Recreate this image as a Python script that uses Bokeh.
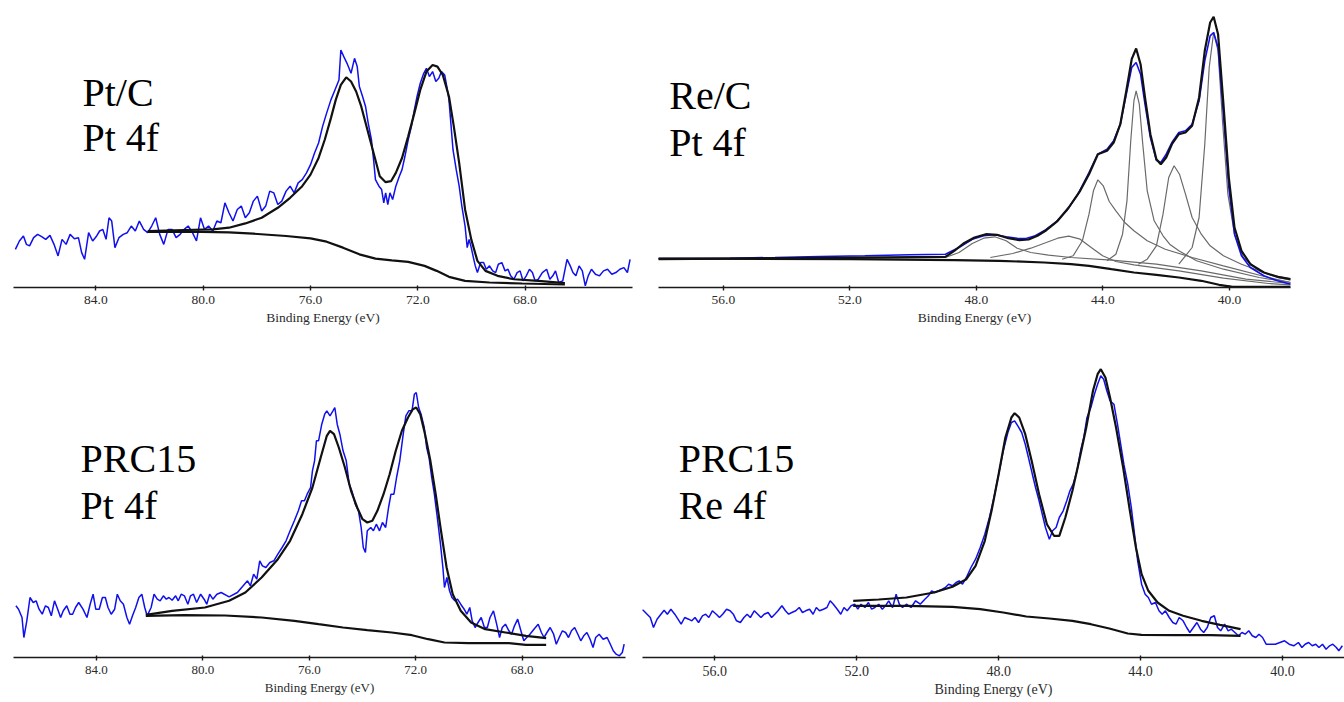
from bokeh.plotting import figure
from bokeh.models import Range1d, FixedTicker, Label, NumeralTickFormatter
from bokeh.layouts import row, column
from bokeh.embed import file_html
from bokeh.resources import INLINE

# ---------------- Panel A : Pt/C, Pt 4f ----------------
ptc_raw = [(87.00, 38.3), (86.85, 46.7), (86.70, 51.7), (86.59, 43.3), (86.47, 41.7), (86.32, 50), (86.17, 53.3),
           (86.02, 51), (85.87, 48.3), (85.71, 52.3), (85.56, 43.3), (85.41, 31.7), (85.26, 48.3), (85.11, 43.3),
           (84.96, 53.3), (84.80, 49), (84.65, 50), (84.53, 35), (84.42, 28.3), (84.27, 55), (84.12, 46.7),
           (83.97, 51.7), (83.86, 56.7), (83.74, 58.3), (83.62, 48.3), (83.51, 70), (83.41, 66.7), (83.29, 40),
           (83.14, 50), (82.98, 53.3), (82.83, 55), (82.68, 61.7), (82.53, 56.7), (82.38, 66.7), (82.22, 58.3),
           (82.07, 55), (81.92, 61.7), (81.77, 70), (81.62, 53.3), (81.47, 43.3), (81.31, 58.3), (81.16, 58.3),
           (81.01, 50), (80.86, 53.3), (80.71, 58.3), (80.56, 61.7), (80.40, 55), (80.25, 46.7), (80.10, 70),
           (79.95, 58.3), (79.80, 61.7), (79.64, 56.7), (79.49, 66.7), (79.34, 65), (79.19, 85), (79.04, 75),
           (78.89, 66.7), (78.73, 78.3), (78.58, 81.7), (78.43, 70), (78.28, 75), (78.13, 86.7), (77.98, 91.7),
           (77.82, 76.7), (77.67, 81.7), (77.52, 96.7), (77.37, 95), (77.22, 83.3), (77.07, 86.7), (76.91, 96.7),
           (76.76, 101.7), (76.61, 95), (76.46, 105), (76.31, 108.3), (76.15, 115), (76.00, 123.3), (75.85, 135),
           (75.70, 145), (75.55, 161.7), (75.40, 175), (75.24, 188.3), (75.09, 198.3), (74.94, 208.3),
           (74.87, 238.3), (74.76, 231.7), (74.64, 225), (74.49, 215), (74.36, 230), (74.26, 221.7),
           (74.18, 201.7), (74.06, 191.7), (73.95, 181.7), (73.85, 165), (73.73, 148.3), (73.65, 128.3),
           (73.58, 108.3), (73.45, 101.7), (73.35, 98.3), (73.27, 85), (73.20, 95), (73.12, 83.3), (73.04, 95),
           (72.94, 88.3), (72.82, 101.7), (72.69, 111.7), (72.59, 118.3), (72.48, 131.7), (72.36, 148.3),
           (72.24, 161.7), (72.13, 178.3), (72.03, 191.7), (71.91, 205), (71.78, 215), (71.68, 220),
           (71.57, 211.7), (71.45, 216.7), (71.33, 206.7), (71.22, 210), (71.12, 216.7), (71.00, 213.3),
           (70.92, 201.7), (70.84, 188.3), (70.77, 165), (70.69, 138.3), (70.57, 118.3), (70.46, 101.7),
           (70.36, 81.7), (70.24, 61.7), (70.16, 40), (70.09, 48.3), (70.01, 40), (69.93, 30), (69.86, 21.7),
           (69.78, 15), (69.66, 25), (69.55, 25), (69.45, 18.3), (69.33, 21.7), (69.21, 16.7), (69.10, 15),
           (69.00, 23.3), (68.87, 25), (68.75, 16.7), (68.64, 18.3), (68.54, 11.7), (68.42, 8.3), (68.30, 15),
           (68.19, 16.7), (68.08, 6.7), (67.96, 11.7), (67.84, 18.3), (67.73, 15), (67.63, 6.7), (67.51, 8.3),
           (67.36, 15), (67.20, 18.3), (67.08, 8.3), (66.97, 11.7), (66.87, 16.7), (66.75, 5), (66.60, 6.7),
           (66.44, 28.3), (66.32, 21.7), (66.22, 15), (66.11, 11.7), (65.99, 21.7), (65.87, 16.7), (65.76, 1.7),
           (65.65, 11.7), (65.53, 18.3), (65.38, 13.3), (65.23, 11.7), (65.08, 16.7), (64.93, 18.3),
           (64.77, 13.3), (64.62, 15), (64.47, 18.3), (64.32, 20), (64.19, 15), (64.09, 28.3)]
ptc_fit = [(82.07, 56.7), (80.71, 57.7), (79.64, 58.3), (79.04, 60), (78.43, 64.3), (77.82, 70), (77.22, 80),
           (76.76, 90), (76.31, 101.7), (76.00, 113.3), (75.70, 130), (75.47, 148.3), (75.24, 170), (75.06, 188.3),
           (74.87, 203.3), (74.67, 211), (74.49, 206.7), (74.30, 196.7), (74.11, 181.7), (73.88, 158.3),
           (73.65, 135), (73.42, 111.7), (73.20, 105.7), (73.00, 106.7), (72.82, 115), (72.59, 130),
           (72.36, 151.7), (72.13, 175), (71.91, 198.3), (71.68, 216.7), (71.45, 223.3), (71.27, 221.7),
           (71.07, 213.3), (70.84, 191.7), (70.66, 161.7), (70.46, 125), (70.24, 78.3), (70.01, 48.3),
           (69.78, 26.7), (69.48, 16.7), (69.03, 11.7), (68.42, 8.3), (67.51, 6.7), (66.52, 4.3)]
ptc_bg = [(82.07, 55.7), (80.56, 56), (79.04, 55.3), (78.13, 54), (76.91, 51.7), (76.00, 49.3), (75.40, 46),
          (74.79, 40), (74.18, 33.3), (73.58, 29), (72.97, 27.3), (72.36, 25.7), (71.75, 21.7), (71.30, 16.7),
          (70.84, 10.7), (70.24, 6.7), (69.33, 5), (68.11, 4), (66.52, 3)]

# ---------------- Panel B : Re/C ----------------
rec_raw = [(58.06, 29), (56.78, 29), (55.79, 29.3), (54.37, 30), (52.95, 31), (51.53, 31.7), (50.11, 32.7),
           (48.98, 33.3), (48.55, 40), (48.13, 48.3), (47.77, 51.7), (47.42, 52.7), (47.06, 50.7), (46.71, 49.3),
           (46.43, 49), (46.14, 51.7), (45.86, 56.7), (45.50, 65), (45.15, 76.7), (44.79, 93.3), (44.44, 115),
           (44.16, 133.3), (43.87, 138.3), (43.66, 146.7), (43.45, 163.3), (43.26, 193.3), (43.09, 220),
           (42.95, 225), (42.81, 213.3), (42.67, 183.3), (42.50, 150), (42.31, 127.3), (42.17, 125),
           (42.00, 133.3), (41.82, 145), (41.60, 155), (41.39, 156.7), (41.18, 163.3), (40.96, 186.7),
           (40.78, 226.7), (40.61, 251.7), (40.50, 255), (40.36, 240), (40.19, 173.3), (40.02, 100),
           (39.84, 53.3), (39.62, 31.7), (39.34, 20), (38.91, 11.7), (38.48, 6.7), (38.06, 3.3)]
rec_fit = [(58.06, 28.3), (48.98, 30.7), (48.70, 36.7), (48.41, 44), (48.06, 50), (47.70, 53.3), (47.35, 52.7),
           (46.99, 49.3), (46.64, 47.3), (46.35, 48), (46.07, 51.7), (45.79, 57.3), (45.43, 66.7), (45.08, 80),
           (44.72, 96.7), (44.44, 113.3), (44.16, 133.3), (43.87, 136.7), (43.66, 145), (43.45, 163.3),
           (43.26, 196.7), (43.09, 228.3), (42.95, 239), (42.81, 223.3), (42.67, 190), (42.50, 153.3),
           (42.31, 128.3), (42.17, 123.3), (42.00, 130), (41.82, 143.3), (41.60, 153.3), (41.39, 155),
           (41.18, 161.7), (40.96, 190), (40.78, 236.7), (40.61, 265), (40.50, 270.7), (40.36, 253.3),
           (40.19, 183.3), (40.02, 110), (39.84, 60), (39.62, 36.7), (39.34, 23.3), (38.91, 15), (38.48, 10.7),
           (38.06, 8.3)]
rec_bg = [(58.06, 29), (51.96, 28.3), (48.70, 27.3), (47.28, 26.7), (45.86, 25), (45.01, 23.3), (44.44, 21.7),
          (43.73, 18.3), (43.02, 15), (42.31, 12.7), (41.60, 10), (40.89, 6.7), (40.33, 2.7), (39.90, 0.7),
          (38.06, 0.7)]
rec_c1 = [(48.98, 30), (48.55, 35), (48.13, 44), (47.77, 49.3), (47.42, 50.7), (47.06, 46.7), (46.71, 39.3),
          (46.28, 35), (45.72, 32.3), (45.01, 30), (43.73, 27.3), (42.31, 23.3), (40.89, 16.7), (39.48, 8.3),
          (38.06, 4)]
rec_c2 = [(47.56, 30), (46.85, 34), (46.28, 39.3), (45.79, 45), (45.43, 49.3), (45.08, 51.3), (44.72, 48.3),
          (44.37, 40), (44.01, 31.7), (43.59, 26), (43.02, 22.7), (41.60, 16.7), (40.19, 9.3), (38.77, 4),
          (38.06, 2.7)]
rec_c3 = [(45.29, 28.3), (44.94, 31.7), (44.65, 46.7), (44.44, 73.3), (44.30, 96.7), (44.16, 107.7),
          (43.99, 101.7), (43.80, 86), (43.59, 76.7), (43.31, 65), (43.02, 56.7), (42.60, 46.7), (42.03, 38.3),
          (41.18, 30), (40.19, 21.7), (38.77, 10), (38.06, 5)]
rec_c4 = [(43.87, 26.7), (43.59, 33.3), (43.38, 53.3), (43.24, 86.7), (43.12, 146.7), (43.02, 186.7),
          (42.95, 196.7), (42.85, 183.3), (42.74, 143.3), (42.60, 96.7), (42.38, 66.7), (42.10, 51.7),
          (41.89, 43.3), (41.60, 36.7), (41.04, 26.7), (40.19, 18.3), (39.06, 10), (38.06, 5)]
rec_c5 = [(42.88, 23.3), (42.60, 28.3), (42.31, 41.7), (42.10, 73.3), (41.92, 110), (41.75, 121.7),
          (41.58, 113.3), (41.39, 93.3), (41.18, 70), (40.89, 53.3), (40.61, 41.7), (40.19, 31.7),
          (39.62, 23.3), (38.77, 13.3), (38.06, 8.3)]
rec_c6 = [(41.60, 23.3), (41.18, 40), (40.96, 70), (40.78, 143.3), (40.64, 220), (40.50, 255), (40.36, 236.7),
          (40.22, 166.7), (40.05, 93.3), (39.84, 53.3), (39.56, 30), (39.06, 16.7), (38.48, 10), (38.06, 7.3)]

# ---------------- Panel C : PRC15, Pt 4f ----------------
prcpt_raw = [(87.02, 51.7), (86.92, 48.3), (86.79, 40), (86.72, 20), (86.61, 36.7), (86.49, 60), (86.37, 55),
             (86.26, 56.7), (86.15, 48.3), (86.03, 43.3), (85.91, 51.7), (85.80, 50), (85.69, 41.7),
             (85.57, 56.7), (85.45, 48.3), (85.34, 40), (85.24, 46.7), (85.11, 51.7), (84.99, 43.3),
             (84.89, 43.3), (84.78, 50), (84.66, 55), (84.50, 48.3), (84.35, 40), (84.23, 53.3), (84.12, 63.3),
             (84.02, 48.3), (83.89, 48.3), (83.77, 60), (83.66, 60), (83.56, 50), (83.44, 43.3), (83.31, 48.3),
             (83.21, 63.3), (83.10, 56.7), (82.98, 53.3), (82.85, 40), (82.75, 33.3), (82.64, 41.7), (82.52, 50),
             (82.40, 60), (82.29, 63.3), (82.18, 50), (82.09, 41.7), (81.94, 50), (81.83, 63.3), (81.71, 58.3),
             (81.60, 56.7), (81.48, 61.7), (81.37, 58.3), (81.27, 60), (81.15, 57.3), (81.02, 61.7),
             (80.92, 56.7), (80.81, 63.3), (80.69, 61.7), (80.56, 53.3), (80.46, 61.7), (80.35, 63.3),
             (80.23, 55), (80.08, 63.3), (79.95, 58.3), (79.85, 53.3), (79.74, 63.3), (79.62, 58.3),
             (79.47, 63.3), (79.31, 65), (79.01, 60.7), (78.70, 65), (78.32, 76.7), (78.21, 71.7), (78.09, 83.3),
             (77.97, 78.3), (77.86, 96.7), (77.76, 91.7), (77.63, 90), (77.48, 95), (77.33, 96.7),
             (77.18, 103.3), (77.02, 110), (76.87, 116.7), (76.72, 126.7), (76.56, 136.7), (76.41, 146.7),
             (76.29, 156.7), (76.18, 156.7), (76.08, 163.3), (75.95, 170), (75.88, 186.7), (75.80, 196.7),
             (75.73, 216.7), (75.65, 216.7), (75.53, 233.3), (75.42, 243.3), (75.34, 246.7), (75.22, 241.7),
             (75.11, 246.7), (75.04, 250), (74.95, 233.3), (74.85, 223.3), (74.73, 206.7), (74.61, 196.7),
             (74.50, 173.3), (74.40, 166.7), (74.27, 153.3), (74.15, 146.7), (74.05, 130), (73.97, 110),
             (73.89, 105), (73.82, 126.7), (73.69, 130), (73.59, 126.7), (73.48, 133.3), (73.36, 126.7),
             (73.25, 135), (73.13, 130), (73.02, 150), (72.93, 163.3), (72.82, 163.3), (72.72, 180),
             (72.60, 196.7), (72.47, 223.3), (72.37, 241.7), (72.26, 246.7), (72.14, 246.7), (72.05, 263.3),
             (71.98, 265), (71.89, 250), (71.80, 243.3), (71.68, 230), (71.59, 210), (71.50, 200), (71.40, 180),
             (71.30, 163.3), (71.19, 140), (71.07, 113.3), (70.98, 90), (70.92, 70), (70.83, 80), (70.73, 66.7),
             (70.64, 60), (70.53, 56.7), (70.43, 58.3), (70.31, 53.3), (70.18, 48.3), (70.08, 43.3), (69.97, 50),
             (69.88, 36.7), (69.77, 30), (69.66, 35), (69.54, 40), (69.42, 30), (69.31, 30), (69.21, 40),
             (69.08, 46.7), (68.96, 33.3), (68.85, 20), (68.75, 30), (68.63, 33.3), (68.50, 26.7), (68.40, 23.3),
             (68.29, 31.7), (68.17, 38.3), (68.05, 26.7), (67.94, 16.7), (67.83, 20), (67.71, 23.3),
             (67.56, 28.3), (67.40, 33.3), (67.28, 25), (67.18, 20), (67.07, 25), (66.95, 30), (66.82, 23.3),
             (66.72, 13.3), (66.61, 20), (66.49, 26.7), (66.37, 25), (66.26, 20), (66.15, 26.7), (66.03, 30),
             (65.91, 23.3), (65.80, 16.7), (65.69, 21.7), (65.57, 25), (65.45, 18.3), (65.34, 10), (65.24, 20),
             (65.11, 23.3), (64.96, 18.3), (64.81, 20), (64.69, 13.3), (64.58, 6.7), (64.47, 3.3), (64.35, 1.7),
             (64.24, 5), (64.17, 13.3)]
prcpt_fit = [(82.14, 42.7), (81.15, 46.7), (79.92, 50), (79.01, 56.7), (78.40, 65), (77.79, 80), (77.18, 98.3),
             (76.72, 116.7), (76.26, 143.3), (75.88, 170), (75.57, 200), (75.34, 221.7), (75.22, 226.7),
             (75.07, 223.3), (74.89, 210), (74.66, 190), (74.43, 166.7), (74.20, 150), (74.00, 138.3),
             (73.82, 135), (73.63, 136.7), (73.44, 146.7), (73.21, 163.3), (72.98, 183.3), (72.75, 206.7),
             (72.52, 226.7), (72.29, 240), (72.11, 248.3), (71.98, 250), (71.83, 243.3), (71.65, 223.3),
             (71.45, 196.7), (71.25, 163.3), (71.07, 130), (70.84, 90), (70.61, 63.3), (70.31, 46.7), (69.92, 35),
             (69.39, 28.3), (68.63, 25), (67.86, 21.7), (67.10, 19.3)]
prcpt_bg = [(82.14, 41.7), (80.69, 42.3), (79.16, 42), (77.79, 40), (76.56, 36.7), (75.65, 33.3), (74.73, 30),
            (73.82, 27.3), (72.90, 25), (72.14, 22.3), (71.53, 18.3), (70.92, 15), (70.02, 14.3), (68.50, 14.3),
            (67.86, 12.7), (67.10, 12.7)]

# ---------------- Panel D : PRC15, Re 4f ----------------
prcre_raw = [(58.15, 46.7), (58.02, 47.3), (57.91, 43.3), (57.82, 40), (57.73, 30), (57.63, 38.3), (57.52, 43.3),
             (57.43, 47.3), (57.34, 43.3), (57.24, 48.3), (57.13, 43.3), (57.04, 38.3), (56.95, 33.3),
             (56.85, 40), (56.74, 38.3), (56.65, 36.7), (56.56, 40), (56.46, 35), (56.35, 41.7), (56.26, 43.3),
             (56.17, 40), (56.07, 46.7), (55.96, 43.3), (55.87, 40), (55.78, 43.3), (55.67, 48.3), (55.57, 46.7),
             (55.48, 43.3), (55.39, 36.7), (55.28, 35), (55.18, 40), (55.09, 43.3), (55.00, 40), (54.89, 46.7),
             (54.79, 43.3), (54.70, 40), (54.61, 43.3), (54.50, 45), (54.40, 40), (54.31, 43.3), (54.22, 46.7),
             (54.11, 51.7), (54.01, 46.7), (53.92, 43.3), (53.83, 45), (53.72, 46.7), (53.62, 50), (53.53, 45),
             (53.44, 46.7), (53.33, 48.3), (53.23, 43.3), (53.14, 50), (53.05, 46.7), (52.94, 48.3), (52.84, 50),
             (52.75, 56.7), (52.66, 53.3), (52.55, 48.3), (52.45, 43.3), (52.36, 50), (52.27, 46.7),
             (52.16, 51.7), (52.06, 53.3), (51.97, 48.3), (51.88, 53.3), (51.77, 50), (51.67, 55), (51.58, 48.3),
             (51.49, 50), (51.38, 53.3), (51.28, 48.3), (51.19, 51.7), (51.10, 56.7), (50.99, 50), (50.89, 63.3),
             (50.80, 53.3), (50.71, 50), (50.60, 53.3), (50.47, 50), (50.34, 56.7), (50.21, 53.3), (50.08, 58.3),
             (49.98, 61.7), (49.89, 66.7), (49.80, 65), (49.69, 66.7), (49.59, 68.3), (49.50, 70), (49.41, 73.3),
             (49.30, 71.7), (49.20, 75), (49.11, 76.7), (49.02, 73.3), (48.91, 80), (48.78, 90), (48.65, 98.3),
             (48.52, 110), (48.39, 123.3), (48.26, 140), (48.13, 160), (48.00, 183.3), (47.87, 206.7),
             (47.74, 225), (47.64, 235), (47.55, 236.7), (47.46, 231.7), (47.35, 225), (47.25, 213.3),
             (47.16, 200), (47.05, 183.3), (46.96, 170), (46.86, 156.7), (46.77, 143.3), (46.68, 130),
             (46.57, 118.3), (46.48, 126.7), (46.38, 130), (46.29, 140), (46.18, 146.7), (46.08, 156.7),
             (45.99, 166.7), (45.90, 173.3), (45.79, 186.7), (45.69, 206.7), (45.60, 220), (45.51, 240),
             (45.40, 250), (45.30, 263.3), (45.21, 273.3), (45.12, 281.7), (45.04, 278.3), (44.95, 266.7),
             (44.86, 256.7), (44.75, 253.3), (44.65, 233.3), (44.56, 213.3), (44.47, 193.3), (44.36, 173.3),
             (44.26, 150), (44.17, 123.3), (44.08, 96.7), (43.97, 73.3), (43.87, 63.3), (43.78, 60), (43.69, 53.3),
             (43.58, 55), (43.48, 46.7), (43.39, 43.3), (43.30, 46.7), (43.19, 40), (43.09, 35), (43.00, 33.3),
             (42.91, 40), (42.80, 36.7), (42.70, 30), (42.61, 25), (42.51, 30), (42.41, 35), (42.31, 28.3),
             (42.22, 25), (42.12, 30), (42.02, 40), (41.92, 41.7), (41.83, 30), (41.74, 26.7), (41.63, 33.3),
             (41.53, 26.7), (41.44, 28.3), (41.34, 25), (41.24, 21.7), (41.14, 25), (41.05, 23.3), (40.95, 26.7),
             (40.85, 21.7), (40.75, 20), (40.66, 23.3), (40.56, 20), (40.46, 13.3), (40.33, 13.3), (40.20, 13.3),
             (40.07, 15), (39.94, 16.7), (39.81, 13.3), (39.68, 11.7), (39.55, 15), (39.45, 10), (39.36, 13.3),
             (39.26, 15), (39.16, 11.7), (39.06, 13.3), (38.97, 10), (38.87, 13.3), (38.77, 8.3), (38.67, 11.7),
             (38.58, 13.3), (38.48, 10), (38.41, 6.7), (38.31, 11.7)]
prcre_fit = [(52.10, 56.7), (51.38, 58), (50.60, 60), (49.82, 65), (49.30, 70.7), (48.91, 78.3), (48.65, 91.7),
             (48.39, 116.7), (48.20, 146.7), (48.00, 183.3), (47.81, 220), (47.64, 240), (47.55, 244.3),
             (47.42, 240), (47.25, 223.3), (47.07, 196.7), (46.86, 163.3), (46.64, 133.3), (46.44, 121.7),
             (46.29, 121.7), (46.12, 140), (45.92, 166.7), (45.73, 196.7), (45.53, 230), (45.34, 266.7),
             (45.21, 283.3), (45.12, 288.3), (44.99, 280), (44.86, 260), (44.69, 230), (44.49, 190),
             (44.30, 146.7), (44.13, 110), (43.97, 83.3), (43.78, 66.7), (43.52, 55), (43.19, 46.7),
             (42.80, 41.7), (42.28, 36.7), (41.76, 32.7), (41.18, 28.3)]
prcre_bg = [(52.10, 51.7), (50.60, 51.7), (49.30, 50.7), (48.52, 48.3), (47.87, 45), (47.22, 41), (46.57, 39),
            (45.92, 36.7), (45.40, 33.3), (44.88, 29), (44.36, 24), (43.97, 22.7), (43.06, 22.3), (42.02, 22.3),
            (41.18, 21.7)]

pt_ticks = [84, 80, 76, 72, 68]
re_ticks = [56, 52, 48, 44, 40]

BLUE = "#1010ee"
BLACK = "#111111"
GRAY = "#6a6a6a"
SERIF = "Liberation Serif"


def xs(pairs):
    return [p[0] for p in pairs]


def ys(pairs):
    return [p[1] for p in pairs]


def panel(width, height, xr, yr, borders, ticks, tick_size, label_size):
    left, right, top, bottom = borders
    p = figure(width=width, height=height, x_range=Range1d(*xr), y_range=Range1d(*yr),
               output_backend="svg", toolbar_location=None, title=None, y_axis_location=None,
               min_border_left=left, min_border_right=right, min_border_top=top, min_border_bottom=bottom)
    p.grid.visible = False
    p.outline_line_color = None
    p.background_fill_color = "white"
    p.border_fill_color = "white"
    ax = p.xaxis[0]
    ax.ticker = FixedTicker(ticks=ticks)
    ax.formatter = NumeralTickFormatter(format="0.0")
    ax.minor_tick_line_color = None
    ax.major_tick_out = 3
    ax.major_tick_in = 2
    ax.axis_line_width = 1.6
    ax.axis_line_color = "#1a1a1a"
    ax.major_tick_line_color = "#1a1a1a"
    ax.major_tick_line_width = 1.4
    ax.major_label_text_font = SERIF
    ax.major_label_text_font_size = tick_size
    ax.major_label_text_color = "#2b2b2b"
    ax.major_label_standoff = 5
    ax.axis_label = "Binding Energy (eV)"
    ax.axis_label_text_font = SERIF
    ax.axis_label_text_font_style = "normal"
    ax.axis_label_text_font_size = label_size
    ax.axis_label_text_color = "#2b2b2b"
    ax.axis_label_standoff = 3
    return p


def title(p, x, y1, y2, l1, l2):
    for yy, t in ((y1, l1), (y2, l2)):
        p.add_layout(Label(x=x, y=yy, text=t, text_font=SERIF, text_font_size="40px",
                           text_baseline="alphabetic", text_align="left", text_color="black"))


# Panel A  (frame x 13..632, y 12..288)
fa = panel(645, 340, (87.07, 64.0), (0, 276), (13, 13, 12, 52), pt_ticks, "13.5px", "13.5px")
fa.line(xs(ptc_raw), ys(ptc_raw), line_color=BLUE, line_width=1.5)
fa.line(xs(ptc_bg), ys(ptc_bg), line_color=BLACK, line_width=2.2)
fa.line(xs(ptc_fit), ys(ptc_fit), line_color=BLACK, line_width=2.2)
title(fa, 84.5, 196, 151, "Pt/C", "Pt 4f")

# Panel B  (frame x 658..1290, y 12..287)
fb = panel(699, 340, (58.05, 38.07), (0, 275), (13, 54, 12, 53), re_ticks, "13.5px", "13.5px")
for comp in (rec_c1, rec_c2, rec_c3, rec_c4, rec_c5, rec_c6):
    fb.line(xs(comp), ys(comp), line_color=GRAY, line_width=1.2)
fb.line(xs(rec_raw), ys(rec_raw), line_color=BLUE, line_width=1.6)
fb.line(xs(rec_bg), ys(rec_bg), line_color=BLACK, line_width=2.2)
fb.line(xs(rec_fit), ys(rec_fit), line_color=BLACK, line_width=2.2)
title(fb, 57.71, 191.7, 144.7, "Re/C", "Pt 4f")

# Panel C  (frame x 13..625, y 350..657)
fc = panel(634, 360, (87.11, 64.12), (0, 307), (13, 9, 10, 43), pt_ticks, "13px", "13px")
fc.line(xs(prcpt_raw), ys(prcpt_raw), line_color=BLUE, line_width=1.5)
fc.line(xs(prcpt_bg), ys(prcpt_bg), line_color=BLACK, line_width=2.2)
fc.line(xs(prcpt_fit), ys(prcpt_fit), line_color=BLACK, line_width=2.2)
title(fc, 84.59, 199, 152, "PRC15", "Pt 4f")

# Panel D  (frame x 642..1344, y 350..657)
fd = panel(710, 360, (58.04, 38.25), (0, 307), (8, 0, 10, 43), re_ticks, "14px", "14px")
fd.line(xs(prcre_raw), ys(prcre_raw), line_color=BLUE, line_width=1.5)
fd.line(xs(prcre_bg), ys(prcre_bg), line_color=BLACK, line_width=2.2)
fd.line(xs(prcre_fit), ys(prcre_fit), line_color=BLACK, line_width=2.2)
title(fd, 57.02, 198.7, 151.7, "PRC15", "Re 4f")

layout = column(row(fa, fb, spacing=0), row(fc, fd, spacing=0), spacing=0)

open("out.html", "w").write(file_html(layout, INLINE))
